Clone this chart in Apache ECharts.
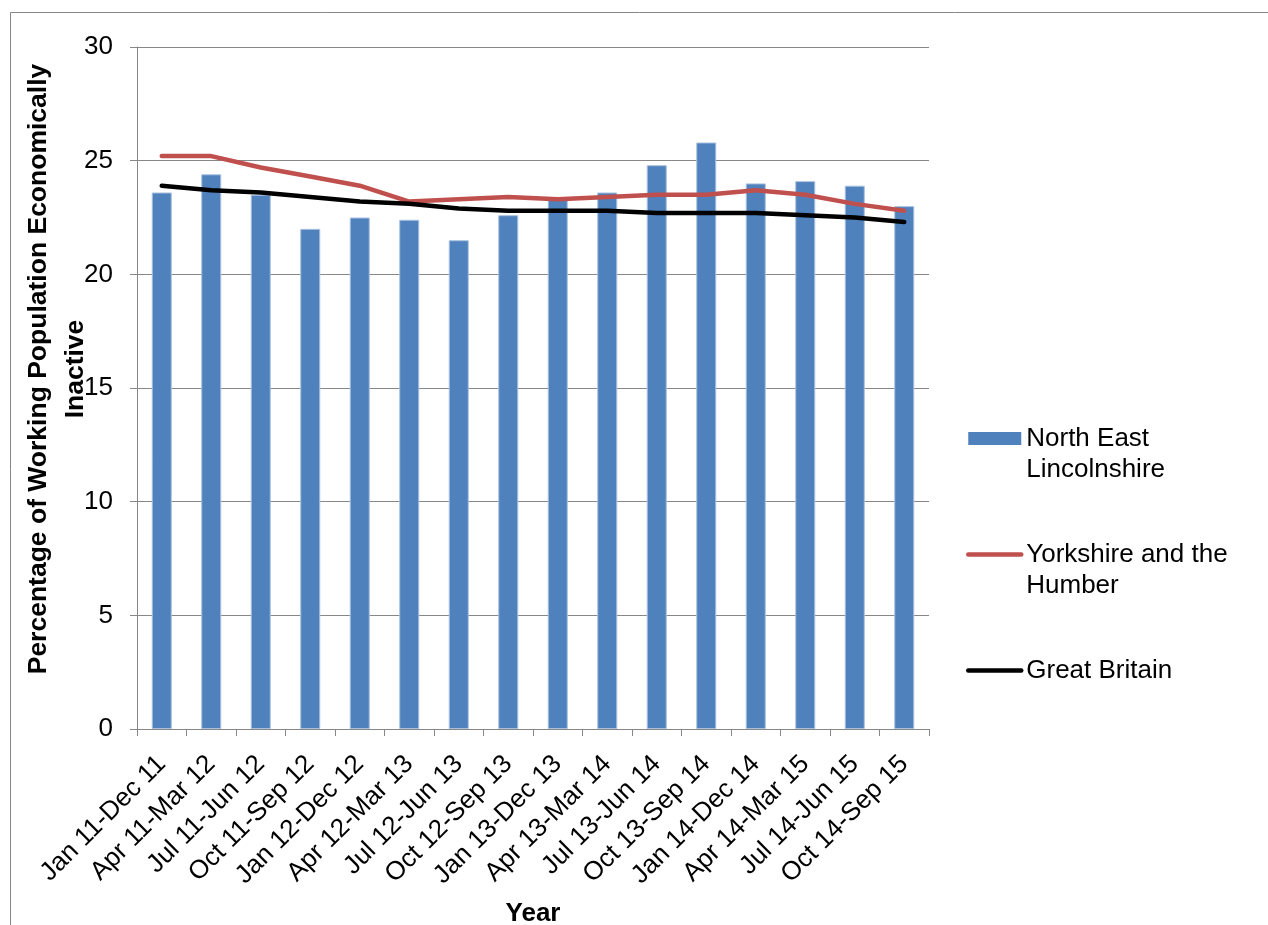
<!DOCTYPE html>
<html>
<head>
<meta charset="utf-8">
<script src="https://cdn.jsdelivr.net/npm/echarts@6/dist/echarts.min.js"></script>
<style>
  html, body { margin: 0; padding: 0; background: #fff; }
  #chart { width: 1268px; height: 925px; }
</style>
</head>
<body>
<div id="chart"></div>
<script>
// Quarterly periods (rolling 12-month windows)
const categories = [
  'Jan 11-Dec 11', 'Apr 11-Mar 12', 'Jul 11-Jun 12', 'Oct 11-Sep 12',
  'Jan 12-Dec 12', 'Apr 12-Mar 13', 'Jul 12-Jun 13', 'Oct 12-Sep 13',
  'Jan 13-Dec 13', 'Apr 13-Mar 14', 'Jul 13-Jun 14', 'Oct 13-Sep 14',
  'Jan 14-Dec 14', 'Apr 14-Mar 15', 'Jul 14-Jun 15', 'Oct 14-Sep 15'
];

// Percentage of working-age population economically inactive
const northEastLincolnshire = [23.6, 24.4, 23.5, 22.0, 22.5, 22.4, 21.5, 22.6,
                               23.4, 23.6, 24.8, 25.8, 24.0, 24.1, 23.9, 23.0];
const yorkshireHumber = [25.2, 25.2, 24.7, 24.3, 23.9, 23.2, 23.3, 23.4,
                         23.3, 23.4, 23.5, 23.5, 23.7, 23.5, 23.1, 22.8];
const greatBritain = [23.9, 23.7, 23.6, 23.4, 23.2, 23.1, 22.9, 22.8,
                      22.8, 22.8, 22.7, 22.7, 22.7, 22.6, 22.5, 22.3];

const yTicks = { min: 0, max: 30, step: 5 };

const seriesNames = ['North East Lincolnshire', 'Yorkshire and the Humber', 'Great Britain'];
// Legend text broken over lines; the leading blank line keeps the key beside the first line
const legendText = {
  'North East Lincolnshire': ' \nNorth East\nLincolnshire',
  'Yorkshire and the Humber': ' \nYorkshire and the\nHumber',
  'Great Britain': ' \nGreat Britain\n '
};

const FONT = "'Liberation Sans', Arial, sans-serif";
const GRID_GREY = '#878787';
const RED = '#C0504D';
const BLUE = '#4F81BD';

const chart = echarts.init(document.getElementById('chart'), null, { renderer: 'canvas' });

chart.setOption({
  backgroundColor: '#ffffff',
  animation: false,
  textStyle: { fontFamily: FONT, color: '#000' },
  graphic: [{
    type: 'rect',
    shape: { x: 10.5, y: 12.5, width: 1400, height: 1000 },
    style: { fill: 'none', stroke: GRID_GREY, lineWidth: 1 },
    silent: true
  }],
  grid: {
    left: 137, right: 339, top: 47, bottom: 196,
    containLabel: false,
    outerBoundsMode: 'none'
  },
  legend: {
    orient: 'vertical',
    left: 966,
    top: 392,
    padding: 0,
    itemGap: 23,
    itemWidth: 53,
    itemHeight: 13,
    textStyle: { fontFamily: FONT, fontSize: 26, lineHeight: 31, color: '#000' },
    formatter: name => legendText[name],
    data: [
      { name: seriesNames[0], icon: 'rect', itemStyle: { color: BLUE, borderWidth: 0 } },
      { name: seriesNames[1], itemStyle: { opacity: 0 },
        lineStyle: { color: RED, width: 4.5, cap: 'round' } },
      { name: seriesNames[2], itemStyle: { opacity: 0 },
        lineStyle: { color: '#000', width: 4.5, cap: 'round' } }
    ]
  },
  xAxis: {
    type: 'category',
    data: categories,
    name: 'Year',
    nameLocation: 'middle',
    nameMoveOverlap: false,
    nameGap: 172,
    nameTextStyle: { fontFamily: FONT, fontSize: 26, fontWeight: 'bold', color: '#000' },
    axisLine: { lineStyle: { color: GRID_GREY, width: 1 } },
    axisTick: { show: true, length: 7, lineStyle: { color: GRID_GREY } },
    axisLabel: { interval: 0, rotate: 45, fontSize: 26, margin: 31, color: '#000', fontFamily: FONT }
  },
  yAxis: {
    type: 'value',
    min: yTicks.min,
    max: yTicks.max,
    interval: yTicks.step,
    name: 'Percentage of Working Population Economically\nInactive',
    nameLocation: 'middle',
    nameMoveOverlap: false,
    nameGap: 43,
    nameTextStyle: {
      fontFamily: FONT, fontSize: 26.5, fontWeight: 'bold', color: '#000',
      lineHeight: 37, align: 'center', padding: [0, 0, 0, 38]
    },
    axisLine: { show: true, lineStyle: { color: GRID_GREY, width: 1 } },
    axisTick: { show: true, length: 7, lineStyle: { color: GRID_GREY } },
    axisLabel: { fontSize: 26, margin: 24, color: '#000', fontFamily: FONT },
    splitLine: { show: true, lineStyle: { color: GRID_GREY, width: 1 } }
  },
  series: [
    {
      name: seriesNames[0],
      type: 'bar',
      data: northEastLincolnshire,
      barWidth: 20,
      itemStyle: { color: BLUE, borderColor: '#A9C0DF', borderWidth: 1 }
    },
    {
      name: seriesNames[1],
      type: 'line',
      data: yorkshireHumber,
      symbol: 'none',
      lineStyle: { color: RED, width: 4.5, cap: 'round', join: 'round' },
      itemStyle: { color: RED }
    },
    {
      name: seriesNames[2],
      type: 'line',
      data: greatBritain,
      symbol: 'none',
      lineStyle: { color: '#000000', width: 4.5, cap: 'round', join: 'round' },
      itemStyle: { color: '#000000' }
    }
  ]
});
</script>
</body>
</html>
